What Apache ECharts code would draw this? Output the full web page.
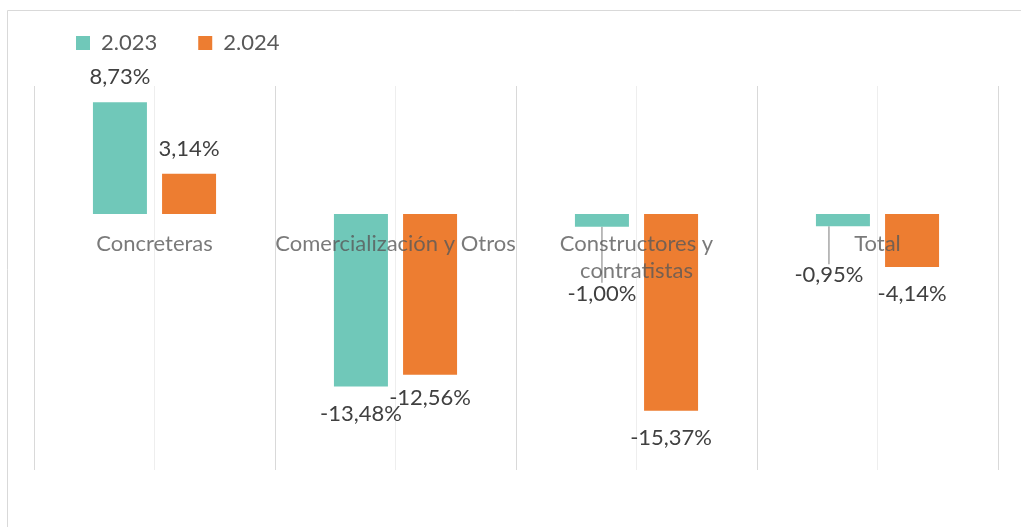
<!DOCTYPE html>
<html>
<head>
<meta charset="utf-8">
<script src="https://cdn.jsdelivr.net/npm/echarts@6/dist/echarts.min.js"></script>
<style>html,body{margin:0;padding:0;background:#fff;}#c{width:1021px;height:527px;}</style>
</head>
<body>
<div id="c"></div>
<script>
const categories = ['Concreteras', 'Comercialización y Otros', 'Constructores y\ncontratistas', 'Total'];
const seriesNames = ['2.023', '2.024'];
const values2023 = [8.73, -13.48, -1.00, -0.95];
const values2024 = [3.14, -12.56, -15.37, -4.14];

const FONT = 'Lato';
const FS = 22;
const colors = ['#70C8B9', '#ED7D31'];
// label nudges (style only): [seriesIndex][dataIndex] -> [dx, dy, showLine]
const nudges = [
  [[0,0,false],[0,0,false],[0,40,true],[-14,22,true]],
  [[0,0,false],[0,-4,false],[0,0,false],[0,0,false]]
];

function fmt(v){ return v.toFixed(2).replace('.', ',') + '%'; }

function buildData(vals, si){
  return vals.map((v, i) => ({
    value: v,
    label: { position: v < 0 ? 'bottom' : 'top', distance: v < 0 ? 16 : 14 },
    labelLine: { show: nudges[si][i][2] }
  }));
}

const chart = echarts.init(document.getElementById('c'));
const barSeries = [values2023, values2024].map((vals, si) => ({
  name: seriesNames[si], type: 'bar', xAxisIndex: 0,
  barWidth: 54, barGap: '28%',
  itemStyle: { color: colors[si] },
  data: buildData(vals, si),
  label: {
    show: true, fontFamily: FONT, fontSize: FS, color: '#404040',
    formatter: p => fmt(p.value)
  },
  labelLine: { show: false, lineStyle: { color: '#a6a6a6', width: 1.5 } },
  labelLayout: p => ({ dx: nudges[si][p.dataIndex][0], dy: nudges[si][p.dataIndex][1] })
}));

// category names drawn at the zero baseline, over the bars
const catLabelSeries = {
  name: 'categorias', type: 'scatter', xAxisIndex: 0, z: 10, silent: true,
  symbolSize: 0,
  data: categories.map(c => [c, 0]),
  label: {
    show: true, position: 'bottom', distance: 16,
    fontFamily: FONT, fontSize: FS, color: '#595959', lineHeight: 27,
    formatter: p => p.name || p.value[0]
  }
};

chart.setOption({
  animation: false,
  textStyle: { fontFamily: FONT },
  graphic: [{
    type: 'rect', silent: true,
    shape: { x: 7.5, y: 10.5, width: 1200, height: 700 },
    style: { fill: 'none', stroke: '#d9d9d9', lineWidth: 1 }
  }],
  legend: {
    left: 76, top: 32, padding: 0,
    icon: 'rect', itemWidth: 14, itemHeight: 14, itemGap: 41,
    textStyle: { fontFamily: FONT, fontSize: FS, color: '#595959', lineHeight: 22, padding: [0,0,0,6] },
    data: seriesNames
  },
  grid: { left: 34, right: 23, top: 86, bottom: 57, containLabel: false, outerBoundsMode: 'none' },
  xAxis: [{
    type: 'category', data: categories,
    axisLine: { show: false },
    axisTick: { show: false },
    splitLine: { show: false },
    axisLabel: { show: false }
  }, {
    type: 'category', data: ['', '', '', '', '', '', '', ''], position: 'top', boundaryGap: true,
    axisLine: { show: false, onZero: false }, axisTick: { show: false }, axisLabel: { show: false },
    splitLine: { show: true, lineStyle: { color: ['#d9d9d9', '#eeeeee'], width: 1 } }
  }],
  yAxis: {
    type: 'value', min: -20, max: 10,
    axisLabel: { show: false }, axisLine: { show: false }, axisTick: { show: false }, splitLine: { show: false }
  },
  series: barSeries.concat([catLabelSeries])
});
</script>
</body>
</html>
